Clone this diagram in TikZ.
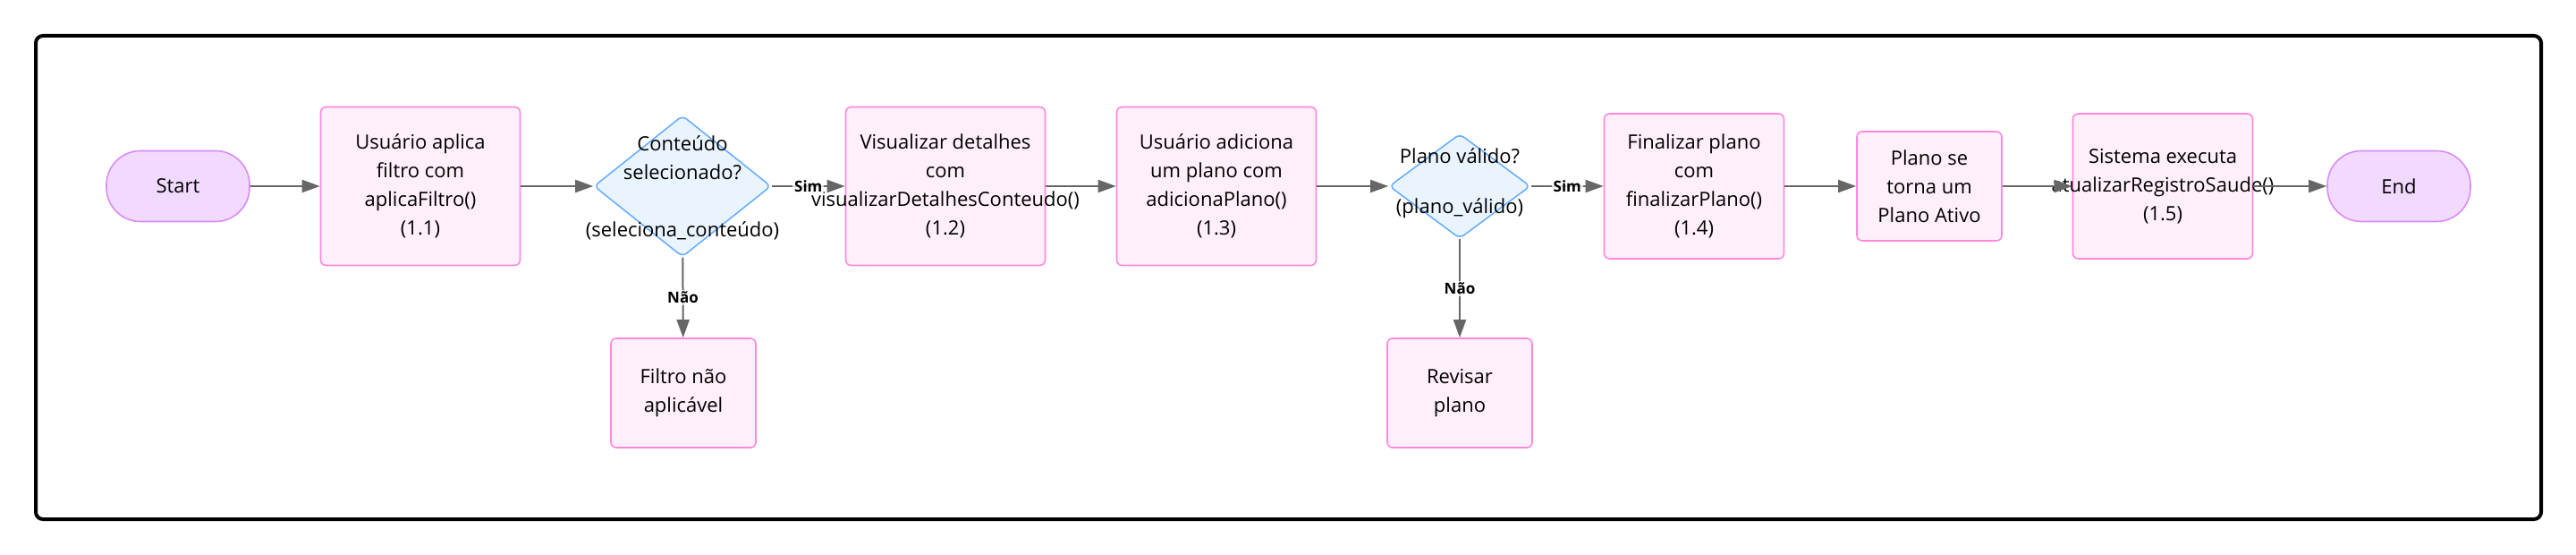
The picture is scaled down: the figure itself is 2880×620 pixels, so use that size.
\documentclass[tikz,border=0pt]{standalone}
\usepackage{fontspec}
\setmainfont{Open Sans}
\usetikzlibrary{arrows.meta,shapes.geometric}
\definecolor{boxfill}{HTML}{FFEFFA}
\definecolor{boxline}{HTML}{FF88DD}
\definecolor{decfill}{HTML}{EAF4FF}
\definecolor{decline}{HTML}{6AAEFF}
\definecolor{termfill}{HTML}{F1D9FF}
\definecolor{termline}{HTML}{D98CF2}
\definecolor{edgegray}{HTML}{666666}
\begin{document}
\begin{tikzpicture}[
  x=0.5pt, y=-0.5pt,
  every node/.style={font=\fontsize{11}{16}\selectfont},
  term/.style={rectangle, rounded corners=19pt, draw=termline, fill=termfill, line width=0.8pt, minimum width=80pt, minimum height=39.5pt},
  proc/.style={rectangle, rounded corners=3pt, draw=boxline, fill=boxfill, line width=0.8pt, align=center},
  procL/.style={proc, minimum width=111.5pt, minimum height=88.5pt},
  procM/.style={proc, minimum width=100.5pt, minimum height=81pt},
  procS/.style={proc, minimum width=81pt, minimum height=61pt},
  dec/.style={diamond, rounded corners=3pt, draw=decline, fill=decfill, line width=0.8pt, inner sep=0pt},
  arrow/.style={-{Triangle[length=10pt,width=7pt]}, draw=edgegray, fill=edgegray, line width=1pt},
  lbl/.style={font=\fontsize{8.5}{10}\selectfont\bfseries, fill=white, fill opacity=0.75, text opacity=1, inner sep=1pt},
]
  \useasboundingbox (0,0) rectangle (2880,620);
  \draw[line width=2pt, rounded corners=4pt] (40,40) rectangle (2841,580);

  \node[term] (start) at (199,208) {Start};
  \node[procL] (b11) at (470,208) {Usuário aplica\\filtro com\\aplicaFiltro()\\(1.1)};
  \node[dec, minimum width=99pt, minimum height=79pt] (d1) at (763,208) {};
  \node[align=center] (d1txt) at (763,210) {Conteúdo\\selecionado?\\[16pt](seleciona\_conteúdo)};
  \node[procS] (filtro) at (764,439) {Filtro não\\aplicável};
  \node[procL] (b12) at (1057,208) {Visualizar detalhes\\com\\\makebox[0pt]{visualizarDetalhesConteudo()}\\(1.2)};
  \node[procL] (b13) at (1360,208) {Usuário adiciona\\um plano com\\adicionaPlano()\\(1.3)};
  \node[dec, minimum width=79pt, minimum height=58.5pt] (d2) at (1632,208) {};
  \node[align=center] (d2txt) at (1632,205) {Plano válido?\\[12pt](plano\_válido)};
  \node[procS] (revisar) at (1632,439) {Revisar\\plano};
  \node[procM] (b14) at (1894,208) {Finalizar plano\\com\\finalizarPlano()\\(1.4)};
  \node[procS] (ativo) at (2157,208) {Plano se\\torna um\\Plano Ativo};
  \node[procM] (b15) at (2418,208) {Sistema executa\\\makebox[0pt]{atualizarRegistroSaude()}\\(1.5)};
  \node[term] (end) at (2682,208) {End};

  \draw[arrow] (start) -- (b11);
  \draw[arrow] (b11) -- (d1);
  \draw[arrow] (d1) -- node[lbl] {Sim} (b12);
  \draw[arrow] (d1) -- node[lbl] {Não} (filtro);
  \draw[arrow] (b12) -- (b13);
  \draw[arrow] (b13) -- (d2);
  \draw[arrow] (d2) -- node[lbl] {Sim} (b14);
  \draw[arrow] (d2) -- node[lbl] {Não} (revisar);
  \draw[arrow] (b14) -- (ativo);
  \draw[arrow] (ativo) -- (b15);
  \draw[arrow] (b15) -- (end);
\end{tikzpicture}
\end{document}
